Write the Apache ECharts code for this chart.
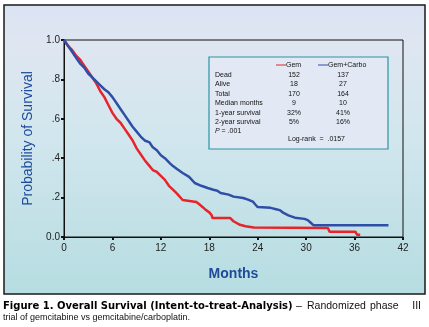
<!DOCTYPE html>
<html><head><meta charset="utf-8">
<script src="https://cdn.jsdelivr.net/npm/echarts@6/dist/echarts.min.js"></script>
<style>html,body{margin:0;padding:0;background:#fff}#c{width:429px;height:327px}</style>
</head><body><div id="c"></div>
<script>
// ---- data (Kaplan-Meier curves; vertical drops are repeated months) ----
var gemMonths = [0,0.5,1.0,1.5,2.0,2.5,3.0,3.5,4.0,4.5,5.0,5.5,6.0,6.5,7.0,7.5,8.0,8.5,9.0,9.5,10.0,10.5,11.0,11.5,12.0,12.5,13.0,13.5,14.0,14.7,16.4,16.8,17.5,18.0,18.3,18.4,20.6,21.0,21.8,22.5,23.5,23.7,32.7,32.9,36.1,36.3,36.7];
var gemSurv   = [1.0,0.97,0.95,0.92,0.90,0.87,0.84,0.81,0.78,0.74,0.71,0.67,0.63,0.60,0.58,0.55,0.52,0.49,0.45,0.42,0.39,0.365,0.34,0.33,0.31,0.29,0.26,0.24,0.22,0.188,0.178,0.165,0.14,0.125,0.11,0.096,0.096,0.08,0.062,0.055,0.048,0.046,0.046,0.027,0.027,0.012,0.012];
var carboMonths = [0,0.5,1.0,1.5,2.0,2.5,3.0,3.5,4.0,4.5,5.0,5.5,6.0,6.5,7.0,7.5,8.0,8.5,9.0,9.5,10.0,10.6,11.0,11.5,12.0,12.5,13.1,13.5,14.0,14.7,15.5,16.2,17.0,17.8,18.5,19.0,19.4,20.4,21.0,22.2,22.8,23.4,23.7,24.0,25.6,26.4,26.8,27.2,27.8,28.6,29.8,30.2,30.5,30.9,40.2];
var carboSurv   = [1.0,0.97,0.94,0.91,0.88,0.86,0.83,0.81,0.79,0.77,0.75,0.735,0.71,0.68,0.65,0.62,0.59,0.56,0.535,0.51,0.49,0.48,0.455,0.44,0.415,0.40,0.375,0.36,0.345,0.325,0.305,0.274,0.26,0.249,0.24,0.235,0.223,0.215,0.205,0.198,0.19,0.18,0.165,0.152,0.148,0.14,0.135,0.122,0.11,0.098,0.092,0.086,0.075,0.06,0.06];
var xTicks = [0,6,12,18,24,30,36,42];
var yTickLabels = {'0':'0.0','0.2':'.2','0.4':'.4','0.6':'.6','0.8':'.8','1':'1.0'};
var seriesNames = ['Gem','Gem+Carbo'];
var rowLabels = ['Dead','Alive','Total','Median months','1-year survival','2-year survival'];
var gemStats = ['152','18','170','9','32%','5%'];
var carboStats = ['137','27','164','10','41%','16%'];
var pText = '.001';
var logRank = 'Log-rank  =  .0157';
var captionBold = 'Figure 1. Overall Survival (Intent-to-treat-Analysis)';
var captionRestWords = ['–','Randomized','phase','III'];
var captionLine2 = 'trial of gemcitabine vs gemcitabine/carboplatin.';

function zip(a,b){var r=[];for(var i=0;i<a.length;i++)r.push([a[i],b[i]]);return r;}

var chart = echarts.init(document.getElementById('c'),null,{renderer:'canvas'});
var F = '"Liberation Sans", Arial, sans-serif';
var RED='#e8242b', BLUE='#2f4ea6', TITLE='#1e4a9a';

var graphics = [
  {type:'rect', z:-10, silent:true, shape:{x:4,y:5,width:421,height:289},
   style:{fill:new echarts.graphic.LinearGradient(0,0,0,1,[
     {offset:0,color:'#dbe2f2'},{offset:0.12,color:'#dfe6f2'},{offset:0.45,color:'#d2e6ee'},{offset:1,color:'#b5dde1'}]),
     stroke:'#1a1a1a', lineWidth:1.5}},
  {type:'rect', z:5, shape:{x:209,y:57,width:179,height:92},
   style:{fill:'#e3e9f4', stroke:'#2a93a3', lineWidth:1.2}},
  {type:'line', z:6, shape:{x1:276,y1:65,x2:286,y2:65}, style:{stroke:RED,lineWidth:1}},
  {type:'text', z:6, style:{x:286,y:65,text:seriesNames[0],font:'7px '+F,fill:'#111',verticalAlign:'middle'}},
  {type:'line', z:6, shape:{x1:318,y1:65,x2:328,y2:65}, style:{stroke:BLUE,lineWidth:1}},
  {type:'text', z:6, style:{x:328,y:65,text:seriesNames[1],font:'7px '+F,fill:'#111',verticalAlign:'middle'}},
  {type:'text', z:6, style:{x:215,y:131,text:'{i|P} = '+pText,font:'7px '+F,fill:'#111',verticalAlign:'middle',
     rich:{i:{fontStyle:'italic',fontSize:7,fontFamily:F}}}},
  {type:'text', z:6, style:{x:288,y:139,text:logRank,font:'7px '+F,fill:'#111',verticalAlign:'middle'}},
  {type:'text', z:6, style:{x:3,y:306,text:captionBold,font:'bold 10px "DejaVu Sans", sans-serif',fill:'#000',verticalAlign:'middle'}},
  {type:'text', z:6, style:{x:296,y:306,text:captionRestWords[0],font:'10.5px '+F,fill:'#111',verticalAlign:'middle'}},
  {type:'text', z:6, style:{x:307,y:306,text:captionRestWords[1],font:'10.5px '+F,fill:'#111',verticalAlign:'middle'}},
  {type:'text', z:6, style:{x:370,y:306,text:captionRestWords[2],font:'10.5px '+F,fill:'#111',verticalAlign:'middle'}},
  {type:'text', z:6, style:{x:421,y:306,text:captionRestWords[3],font:'10.5px '+F,fill:'#111',verticalAlign:'middle',align:'right'}},
  {type:'text', z:6, style:{x:3,y:318,text:captionLine2,font:'9px '+F,fill:'#111',verticalAlign:'middle'}}
];
var rowY = [74.7,84,93.7,102.7,112.7,122];
for (var i=0;i<rowLabels.length;i++){
  graphics.push({type:'text',z:6,style:{x:215,y:rowY[i],text:rowLabels[i],font:'7px '+F,fill:'#111',verticalAlign:'middle'}});
  graphics.push({type:'text',z:6,style:{x:294,y:rowY[i],text:gemStats[i],font:'7px '+F,fill:'#111',verticalAlign:'middle',align:'center'}});
  graphics.push({type:'text',z:6,style:{x:343,y:rowY[i],text:carboStats[i],font:'7px '+F,fill:'#111',verticalAlign:'middle',align:'center'}});
}

chart.setOption({
  backgroundColor:'#ffffff',
  animation:false,
  grid:{left:64,right:26,top:40,bottom:90,show:true,borderColor:'#111',borderWidth:1,backgroundColor:'transparent'},
  xAxis:{type:'value',min:0,max:42,interval:6,
    name:'Months',nameLocation:'middle',nameGap:30,
    nameTextStyle:{color:TITLE,fontSize:14,fontWeight:'bold',fontFamily:F},
    axisLine:{lineStyle:{color:'#111',width:1}},
    axisTick:{length:3,lineStyle:{color:'#111',width:2}},
    axisLabel:{color:'#222',fontSize:10,fontFamily:F,margin:6,
      formatter:function(v){return xTicks.indexOf(v)>=0?String(v):'';}},
    splitLine:{show:false}},
  yAxis:{type:'value',min:0,max:1,interval:0.2,
    name:'Probability of Survival',nameLocation:'middle',nameGap:29,
    nameTextStyle:{color:TITLE,fontSize:14,fontFamily:F},
    axisLine:{show:true,lineStyle:{color:'#111',width:1}},
    axisTick:{show:true,length:3,lineStyle:{color:'#111',width:2}},
    axisLabel:{color:'#222',fontSize:10,fontFamily:F,margin:4,
      formatter:function(v){var k=String(Math.round(v*10)/10);return yTickLabels[k]!==undefined?yTickLabels[k]:'';}},
    splitLine:{show:false}},
  series:[
    {name:seriesNames[0],type:'line',data:zip(gemMonths,gemSurv),showSymbol:false,
     lineStyle:{color:RED,width:2.5},z:3},
    {name:seriesNames[1],type:'line',data:zip(carboMonths,carboSurv),showSymbol:false,
     lineStyle:{color:BLUE,width:2.5},z:4}
  ],
  graphic:graphics
});
</script></body></html>
